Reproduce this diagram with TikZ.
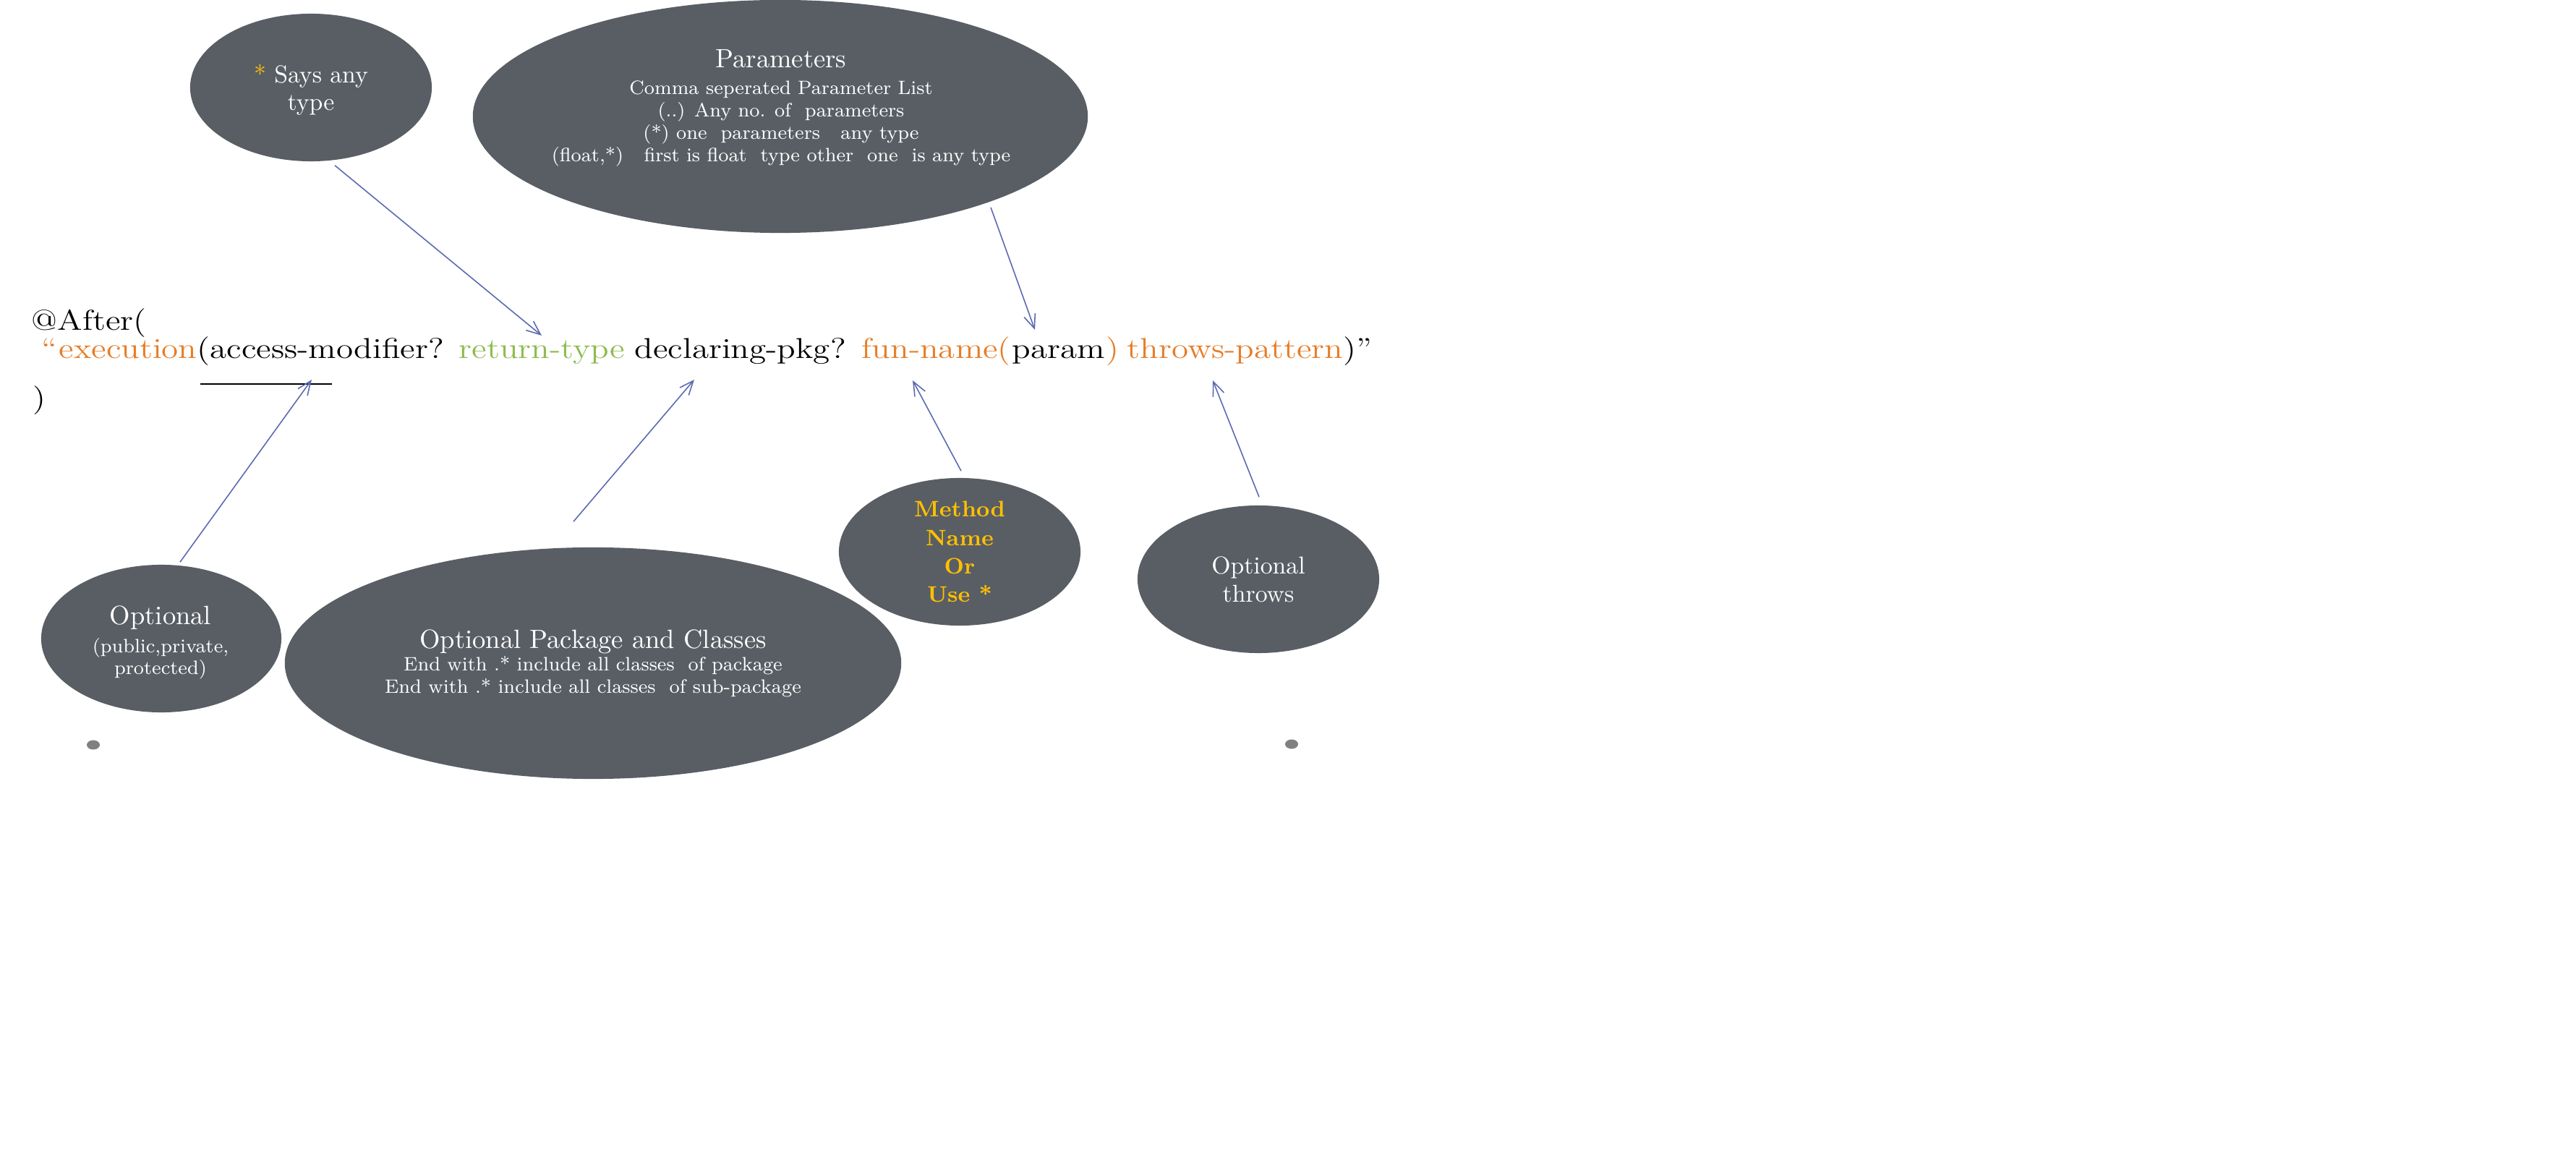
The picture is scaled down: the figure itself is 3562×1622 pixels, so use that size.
\documentclass[tikz,border=0pt]{standalone}
\usepackage{graphicx}
\usetikzlibrary{shapes.geometric,arrows.meta}
\definecolor{blobfill}{RGB}{89,94,101}
\definecolor{kwor}{RGB}{230,125,40}
\definecolor{kwgr}{RGB}{140,188,78}
\definecolor{gold}{RGB}{255,192,0}
\definecolor{arrblue}{RGB}{92,106,178}
\definecolor{dotgray}{RGB}{128,128,128}
\newcommand{\sx}[1]{\scalebox{1.185}[1]{#1}}
\begin{document}
\begin{tikzpicture}[x=0.01cm,y=-0.01cm,
  blob/.style={ellipse, fill=blobfill, draw=none, inner sep=0pt},
  btxt/.style={text=white, align=center, inner sep=0pt},
  code/.style={inner sep=0pt, anchor=base west, font=\fontsize{11.3}{13.5}\selectfont},
  arr/.style={draw=arrblue, line width=0.45pt, -{Straight Barb[length=5.5pt,width=4.6pt]}},
  bullet/.style={ellipse, fill=dotgray, inner sep=0pt, minimum width=0.18cm, minimum height=0.13cm}
]
\useasboundingbox[fill=white] (0,0) rectangle (3562,1622);

% ellipses
\node[blob, minimum width=3.34cm, minimum height=2.04cm] (says) at (430,121) {};
\node[blob, minimum width=8.5cm, minimum height=3.22cm] (params) at (1079,161) {};
\node[blob, minimum width=3.32cm, minimum height=2.04cm] (opt) at (223,883) {};
\node[blob, minimum width=8.52cm, minimum height=3.2cm] (pkg) at (820,917) {};
\node[blob, minimum width=3.34cm, minimum height=2.04cm] (method) at (1327,763) {};
\node[blob, minimum width=3.34cm, minimum height=2.04cm] (throws) at (1740,801) {};

% ellipse texts
\node[btxt, font=\fontsize{9.6}{10.8}\selectfont] (saysT) at (430,124) {{\color{gold}*} Says any\\type};
\node[btxt, font=\fontsize{7.6}{8.8}\selectfont] (paramsT) at (1080,149)
  {{\fontsize{10.4}{12}\selectfont Parameters}\\[1.7pt]
   Comma seperated Parameter List\\
   (..) Any no. of~ parameters\\
   (*) one~ parameters~~ any type\\
   (float,*)~~ first is float~ type other~ one~ is any type};
\node[btxt, font=\fontsize{7.6}{8.8}\selectfont] (pkgT) at (820,917)
  {{\fontsize{10.4}{12}\selectfont Optional Package and Classes}\\
   End with .* include all classes~ of package\\
   End with .* include all classes~ of sub-package};
\node[btxt, font=\fontsize{7.6}{8.3}\selectfont] (optT) at (222,888)
  {{\fontsize{10.4}{12}\selectfont Optional}\\[3pt] (public,private,\\ protected)};
\node[btxt, text=gold, font=\bfseries\fontsize{8.8}{11.1}\selectfont] (methodT) at (1327,763) {Method\\Name\\Or\\Use *};
\node[btxt, font=\fontsize{9.6}{11.1}\selectfont] (throwsT) at (1740,801) {Optional\\throws};

% main code text
\node[code] (after) at (43,457) {\sx{@After(}};
\node[code, text=kwor] (oq) at (57,496) {\sx{\textquotedblleft}};
\node[code, text=kwor] (exe) at (81,496) {\sx{execution}};
\node[code] (acc) at (272,496) {\sx{(access-modifier?}};
\node[code, text=kwgr] (ret) at (634,496) {\sx{return-type}};
\node[code] (decl) at (877,496) {\sx{declaring-pkg?}};
\node[code, text=kwor] (fun) at (1191,496) {\sx{fun-name(}};
\node[code] (par) at (1399,496) {\sx{param}};
\node[code, text=kwor] (rp) at (1529,496) {\sx{)}};
\node[code, text=kwor] (thr) at (1558,496) {\sx{throws-pattern}};
\node[code] (cq) at (1857,496) {\sx{)\textquotedblright}};
\node[code] (close) at (45,564) {\sx{)}};

% underline
\draw[line width=0.45pt] (277,531) -- (459,531);

% bullets
\node[bullet] (dotL) at (129,1030) {};
\node[bullet] (dotR) at (1786,1029) {};

% arrow tips
\coordinate (tA) at (749,464);
\coordinate (tB) at (1431,456);
\coordinate (tC) at (431,525);
\coordinate (tD) at (960,525);
\coordinate (tE) at (1262,526);
\coordinate (tF) at (1677,526);

\draw[arr] (says.south) ++(33,5) -- (tA);
\draw[arr] (params.south) ++(291,-36) -- (tB);
\draw[arr] (opt.north) ++(26,-3) -- (tC);
\draw[arr] (pkg.north) ++(-27,-35) -- (tD);
\draw[arr] (method.north) ++(2,-9) -- (tE);
\draw[arr] (throws.north) ++(1,-11) -- (tF);
\end{tikzpicture}
\end{document}
